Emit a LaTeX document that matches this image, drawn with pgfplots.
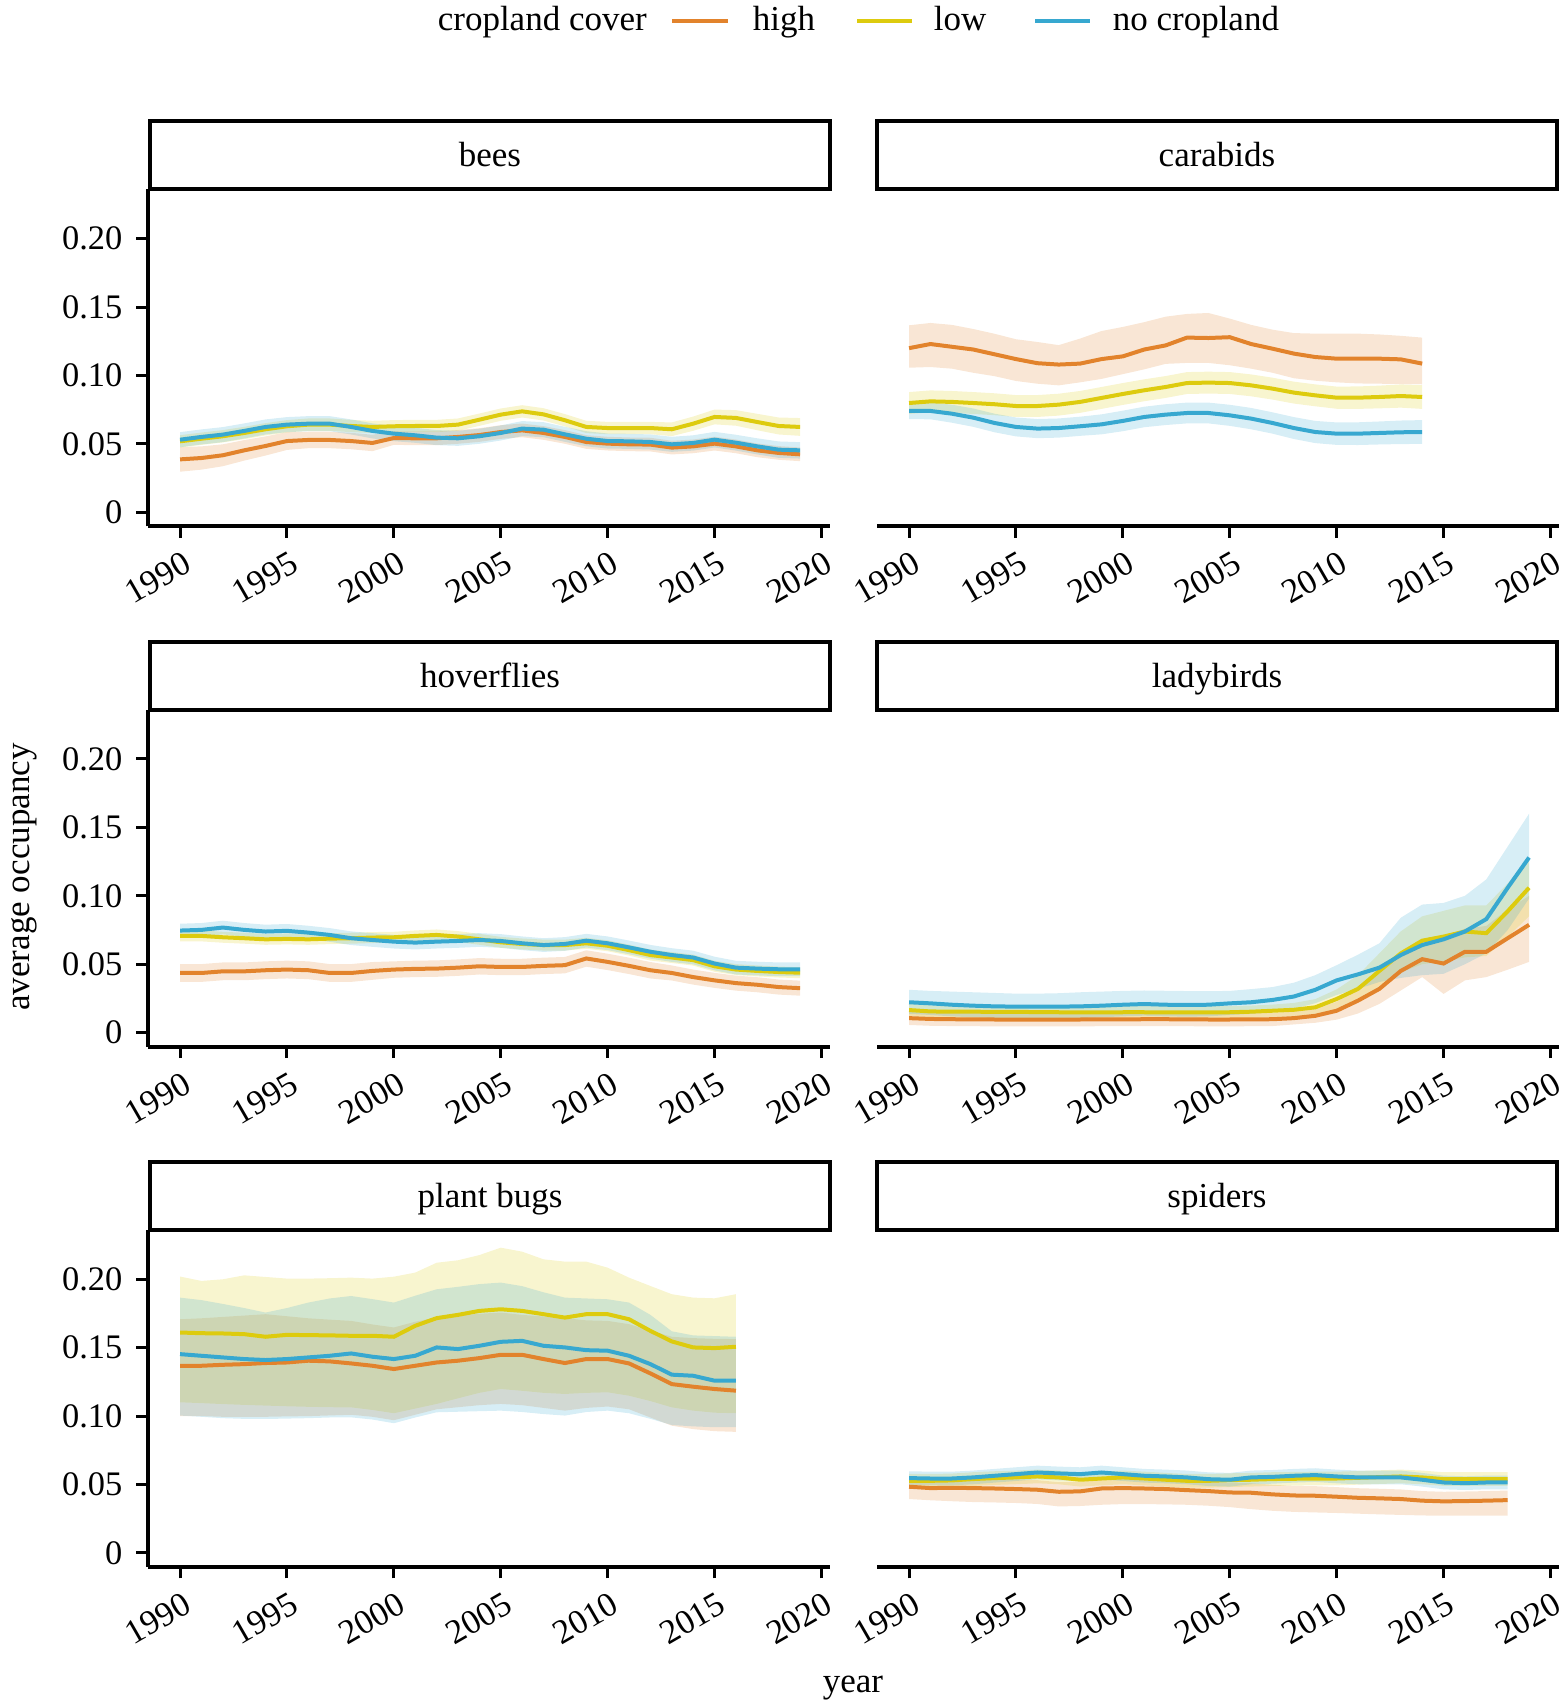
\documentclass[border=0pt]{standalone}
\usepackage{fontspec}
\setmainfont{Liberation Serif}
\usepackage{pgfplots}
\pgfplotsset{compat=1.18}
\usepackage{pgfplotstable}
\usepgfplotslibrary{fillbetween}

\definecolor{chigh}{HTML}{E2832C}
\definecolor{clow}{HTML}{DDCB0E}
\definecolor{cno}{HTML}{37A8D0}
\newcommand\tf{\fontsize{8.75}{10}\selectfont}
\newcommand\tkf{\fontsize{8.6}{10}\selectfont}

\pgfplotstableread{
year hm hl hu lm ll lu nm nl nu
1990 .0387 .0297 .0477 .0519 .0474 .0564 .0531 .0476 .0586
1991 .0397 .0312 .0482 .0538 .0493 .0583 .0551 .0496 .0606
1992 .0417 .0337 .0497 .0556 .0511 .0601 .0568 .0513 .0623
1993 .0453 .0378 .0528 .0580 .0535 .0625 .0595 .0540 .0650
1994 .0485 .0415 .0555 .0607 .0562 .0652 .0624 .0569 .0679
1995 .0521 .0456 .0586 .0629 .0584 .0674 .0641 .0586 .0696
1996 .0529 .0469 .0589 .0641 .0596 .0686 .0648 .0593 .0703
1997 .0529 .0469 .0589 .0641 .0596 .0686 .0648 .0593 .0703
1998 .0521 .0461 .0581 .0631 .0586 .0676 .0624 .0569 .0679
1999 .0507 .0447 .0567 .0624 .0579 .0669 .0595 .0540 .0650
2000 .0543 .0493 .0593 .0629 .0584 .0674 .0575 .0520 .0630
2001 .0541 .0491 .0591 .0631 .0586 .0676 .0563 .0508 .0618
2002 .0541 .0491 .0591 .0631 .0586 .0676 .0546 .0491 .0601
2003 .0551 .0501 .0601 .0641 .0596 .0686 .0541 .0486 .0596
2004 .0565 .0515 .0615 .0677 .0632 .0722 .0556 .0501 .0611
2005 .0587 .0537 .0637 .0714 .0669 .0759 .0580 .0525 .0635
2006 .0599 .0549 .0649 .0738 .0693 .0783 .0612 .0557 .0667
2007 .0580 .0530 .0630 .0716 .0671 .0761 .0604 .0549 .0659
2008 .0551 .0501 .0601 .0673 .0628 .0718 .0570 .0515 .0625
2009 .0514 .0464 .0564 .0624 .0579 .0669 .0538 .0483 .0593
2010 .0502 .0452 .0552 .0616 .0571 .0661 .0521 .0466 .0576
2011 .0497 .0447 .0547 .0616 .0571 .0661 .0519 .0464 .0574
2012 .0495 .0445 .0545 .0616 .0571 .0661 .0514 .0459 .0569
2013 .0473 .0423 .0523 .0607 .0557 .0657 .0497 .0442 .0552
2014 .0482 .0432 .0532 .0648 .0596 .0700 .0507 .0451 .0563
2015 .0502 .0452 .0552 .0697 .0643 .0751 .0531 .0474 .0588
2016 .0482 .0432 .0532 .0690 .0633 .0747 .0509 .0451 .0567
2017 .0453 .0403 .0503 .0660 .0600 .0720 .0482 .0423 .0541
2018 .0434 .0384 .0484 .0631 .0569 .0693 .0458 .0398 .0518
2019 .0424 .0374 .0474 .0624 .0559 .0689 .0453 .0393 .0513
}\bees

\pgfplotstableread{
year hm hl hu lm ll lu nm nl nu
1990 .1200 .1057 .1367 .0799 .0719 .0879 .0741 .0681 .0801
1991 .1230 .1062 .1384 .0811 .0731 .0891 .0741 .0680 .0802
1992 .1210 .1050 .1370 .0807 .0727 .0887 .0721 .0655 .0787
1993 .1190 .1020 .1340 .0799 .0719 .0879 .0692 .0625 .0759
1994 .1155 .0995 .1305 .0790 .0710 .0870 .0653 .0585 .0721
1995 .1120 .0960 .1265 .0777 .0697 .0857 .0624 .0555 .0693
1996 .1090 .0940 .1245 .0777 .0697 .0857 .0612 .0542 .0682
1997 .1080 .0928 .1222 .0787 .0707 .0867 .0616 .0546 .0686
1998 .1087 .0950 .1270 .0807 .0727 .0887 .0629 .0559 .0699
1999 .1120 .0975 .1325 .0836 .0756 .0916 .0643 .0570 .0716
2000 .1140 .1010 .1355 .0865 .0785 .0945 .0668 .0593 .0743
2001 .1190 .1045 .1390 .0892 .0812 .0972 .0697 .0622 .0772
2002 .1220 .1085 .1430 .0916 .0836 .0996 .0714 .0638 .0790
2003 .1277 .1092 .1450 .0945 .0865 .1025 .0726 .0650 .0802
2004 .1274 .1092 .1457 .0948 .0868 .1028 .0726 .0650 .0802
2005 .1280 .1075 .1416 .0945 .0865 .1025 .0709 .0632 .0786
2006 .1230 .1050 .1370 .0928 .0848 .1008 .0685 .0607 .0763
2007 .1196 .1020 .1335 .0904 .0824 .0984 .0653 .0575 .0731
2008 .1160 .0980 .1310 .0875 .0795 .0955 .0616 .0536 .0696
2009 .1135 .0962 .1306 .0855 .0775 .0935 .0587 .0506 .0668
2010 .1123 .0950 .1306 .0838 .0757 .0919 .0575 .0493 .0657
2011 .1123 .0942 .1306 .0838 .0756 .0920 .0575 .0492 .0658
2012 .1123 .0940 .1300 .0843 .0760 .0926 .0580 .0496 .0664
2013 .1118 .0938 .1290 .0850 .0765 .0935 .0585 .0499 .0671
2014 .1087 .0936 .1277 .0843 .0756 .0930 .0587 .0500 .0674
}\carabids

\pgfplotstableread{
year hm hl hu lm ll lu nm nl nu
1990 .0436 .0371 .0501 .0707 .0667 .0747 .0746 .0696 .0796
1991 .0436 .0371 .0501 .0707 .0667 .0747 .0751 .0701 .0801
1992 .0448 .0383 .0513 .0697 .0657 .0737 .0768 .0718 .0818
1993 .0448 .0383 .0513 .0690 .0650 .0730 .0751 .0701 .0801
1994 .0456 .0391 .0521 .0682 .0642 .0722 .0739 .0689 .0789
1995 .0461 .0396 .0526 .0685 .0645 .0725 .0744 .0694 .0794
1996 .0456 .0391 .0521 .0682 .0642 .0722 .0731 .0681 .0781
1997 .0436 .0371 .0501 .0687 .0647 .0727 .0714 .0664 .0764
1998 .0436 .0371 .0501 .0690 .0650 .0730 .0690 .0640 .0740
1999 .0451 .0386 .0516 .0695 .0655 .0735 .0677 .0627 .0727
2000 .0461 .0401 .0521 .0697 .0657 .0737 .0665 .0615 .0715
2001 .0466 .0406 .0526 .0707 .0667 .0747 .0658 .0608 .0708
2002 .0468 .0408 .0528 .0714 .0674 .0754 .0665 .0615 .0715
2003 .0475 .0415 .0535 .0702 .0662 .0742 .0670 .0620 .0720
2004 .0485 .0425 .0545 .0682 .0642 .0722 .0677 .0627 .0727
2005 .0480 .0420 .0540 .0660 .0620 .0700 .0670 .0620 .0720
2006 .0480 .0420 .0540 .0648 .0608 .0688 .0653 .0603 .0703
2007 .0488 .0428 .0548 .0640 .0600 .0680 .0640 .0590 .0690
2008 .0493 .0433 .0553 .0640 .0600 .0680 .0648 .0598 .0698
2009 .0542 .0482 .0602 .0653 .0613 .0693 .0672 .0622 .0722
2010 .0517 .0457 .0577 .0635 .0595 .0675 .0653 .0603 .0703
2011 .0488 .0428 .0548 .0603 .0563 .0643 .0623 .0573 .0673
2012 .0456 .0396 .0516 .0567 .0527 .0607 .0591 .0541 .0641
2013 .0436 .0381 .0491 .0549 .0509 .0589 .0567 .0517 .0617
2014 .0406 .0351 .0461 .0530 .0490 .0570 .0549 .0499 .0599
2015 .0382 .0327 .0437 .0485 .0445 .0525 .0505 .0455 .0555
2016 .0362 .0307 .0417 .0461 .0421 .0501 .0475 .0425 .0525
2017 .0350 .0295 .0405 .0451 .0411 .0491 .0468 .0418 .0518
2018 .0333 .0278 .0388 .0443 .0403 .0483 .0463 .0413 .0513
2019 .0325 .0270 .0380 .0438 .0398 .0478 .0463 .0413 .0513
}\hoverflies

\pgfplotstableread{
year hm hl hu lm ll lu nm nl nu
1990 .0106 .0056 .0151 .0165 .0120 .0210 .0222 .0137 .0313
1991 .0100 .0050 .0145 .0155 .0110 .0200 .0214 .0129 .0305
1992 .0098 .0048 .0143 .0153 .0108 .0198 .0204 .0119 .0300
1993 .0097 .0047 .0142 .0153 .0108 .0198 .0197 .0112 .0295
1994 .0096 .0046 .0141 .0152 .0107 .0197 .0192 .0107 .0290
1995 .0096 .0046 .0141 .0152 .0107 .0197 .0190 .0105 .0285
1996 .0095 .0045 .0140 .0150 .0105 .0195 .0190 .0105 .0285
1997 .0095 .0045 .0140 .0149 .0104 .0194 .0190 .0105 .0288
1998 .0096 .0046 .0141 .0148 .0103 .0193 .0192 .0107 .0295
1999 .0097 .0047 .0142 .0148 .0103 .0193 .0197 .0112 .0300
2000 .0097 .0047 .0142 .0149 .0104 .0194 .0204 .0119 .0305
2001 .0098 .0048 .0143 .0149 .0104 .0194 .0209 .0124 .0308
2002 .0098 .0048 .0143 .0148 .0103 .0193 .0204 .0119 .0306
2003 .0097 .0047 .0142 .0148 .0103 .0193 .0202 .0117 .0304
2004 .0096 .0046 .0141 .0148 .0103 .0193 .0204 .0119 .0303
2005 .0096 .0046 .0141 .0149 .0104 .0194 .0214 .0129 .0305
2006 .0097 .0047 .0142 .0153 .0108 .0198 .0222 .0137 .0318
2007 .0098 .0048 .0143 .0160 .0115 .0205 .0239 .0154 .0333
2008 .0106 .0060 .0155 .0167 .0117 .0217 .0264 .0175 .0365
2009 .0123 .0072 .0178 .0185 .0125 .0245 .0313 .0215 .0420
2010 .0160 .0095 .0225 .0246 .0176 .0316 .0382 .0275 .0493
2011 .0234 .0140 .0320 .0320 .0230 .0420 .0426 .0320 .0570
2012 .0320 .0210 .0430 .0451 .0330 .0580 .0475 .0370 .0653
2013 .0451 .0308 .0590 .0579 .0440 .0740 .0567 .0400 .0840
2014 .0537 .0406 .0680 .0672 .0500 .0850 .0640 .0420 .0936
2015 .0505 .0283 .0700 .0702 .0520 .0890 .0682 .0430 .0948
2016 .0591 .0382 .0760 .0739 .0550 .0930 .0739 .0500 .1000
2017 .0591 .0406 .0780 .0727 .0560 .0930 .0830 .0580 .1120
2018 .0690 .0460 .0900 .0887 .0700 .1090 .1059 .0750 .1360
2019 .0788 .0517 .1000 .1059 .0850 .1280 .1280 .0980 .1600
}\ladybirds

\pgfplotstableread{
year hm hl hu lm ll lu nm nl nu
1990 .1368 .1000 .1708 .1611 .1101 .2020 .1453 .1004 .1866
1991 .1368 .1000 .1715 .1606 .1095 .1988 .1441 .0995 .1848
1992 .1375 .0995 .1725 .1604 .1088 .2000 .1429 .0985 .1820
1993 .1380 .0995 .1735 .1599 .1082 .2029 .1417 .0980 .1790
1994 .1388 .0995 .1745 .1580 .1077 .2017 .1410 .0979 .1757
1995 .1392 .0998 .1730 .1594 .1072 .2005 .1417 .0982 .1790
1996 .1405 .1000 .1715 .1592 .1068 .2005 .1429 .0985 .1830
1997 .1400 .1005 .1705 .1590 .1065 .2008 .1441 .0990 .1860
1998 .1385 .1010 .1696 .1587 .1064 .2012 .1458 .0991 .1878
1999 .1368 .0995 .1670 .1587 .1045 .2005 .1434 .0975 .1855
2000 .1344 .0970 .1648 .1580 .1021 .2019 .1417 .0948 .1830
2001 .1368 .1010 .1690 .1660 .1055 .2049 .1441 .0990 .1880
2002 .1392 .1050 .1721 .1716 .1089 .2121 .1502 .1028 .1927
2003 .1405 .1065 .1735 .1740 .1130 .2139 .1490 .1032 .1945
2004 .1424 .1080 .1748 .1769 .1170 .2177 .1514 .1036 .1965
2005 .1448 .1089 .1757 .1781 .1198 .2231 .1543 .1040 .1976
2006 .1448 .1080 .1740 .1769 .1185 .2202 .1550 .1030 .1950
2007 .1417 .1060 .1728 .1745 .1170 .2146 .1514 .1015 .1905
2008 .1388 .1040 .1716 .1720 .1162 .2129 .1502 .1004 .1866
2009 .1417 .1060 .1700 .1745 .1170 .2129 .1482 .1030 .1860
2010 .1417 .1070 .1696 .1745 .1174 .2085 .1478 .1040 .1854
2011 .1385 .1050 .1672 .1708 .1149 .2012 .1441 .1021 .1830
2012 .1312 .0990 .1625 .1623 .1110 .1951 .1380 .0980 .1740
2013 .1234 .0930 .1580 .1546 .1064 .1891 .1303 .0935 .1620
2014 .1215 .0905 .1570 .1502 .1040 .1866 .1295 .0925 .1590
2015 .1198 .0890 .1565 .1497 .1025 .1861 .1259 .0919 .1585
2016 .1186 .0885 .1563 .1507 .1021 .1891 .1259 .0919 .1580
}\plantbugs

\pgfplotstableread{
year hm hl hu lm ll lu nm nl nu
1990 .0484 .0394 .0554 .0527 .0477 .0577 .0547 .0497 .0597
1991 .0474 .0385 .0544 .0527 .0477 .0577 .0544 .0494 .0594
1992 .0476 .0378 .0546 .0530 .0480 .0580 .0544 .0494 .0594
1993 .0474 .0372 .0544 .0540 .0490 .0590 .0552 .0502 .0602
1994 .0471 .0369 .0541 .0547 .0497 .0597 .0564 .0514 .0614
1995 .0467 .0365 .0537 .0552 .0502 .0602 .0576 .0526 .0626
1996 .0462 .0358 .0532 .0559 .0509 .0609 .0588 .0538 .0638
1997 .0447 .0340 .0517 .0552 .0502 .0602 .0581 .0531 .0631
1998 .0450 .0343 .0520 .0535 .0485 .0585 .0576 .0526 .0626
1999 .0471 .0352 .0541 .0544 .0494 .0594 .0588 .0538 .0638
2000 .0474 .0357 .0544 .0552 .0502 .0602 .0576 .0526 .0626
2001 .0471 .0357 .0541 .0544 .0494 .0594 .0564 .0514 .0614
2002 .0467 .0355 .0537 .0535 .0485 .0585 .0559 .0509 .0609
2003 .0459 .0352 .0529 .0527 .0477 .0577 .0552 .0502 .0602
2004 .0452 .0345 .0522 .0527 .0477 .0577 .0539 .0489 .0589
2005 .0442 .0335 .0512 .0532 .0482 .0582 .0535 .0485 .0585
2006 .0440 .0320 .0510 .0535 .0485 .0585 .0552 .0502 .0602
2007 .0428 .0308 .0498 .0540 .0490 .0590 .0556 .0506 .0606
2008 .0420 .0300 .0490 .0542 .0492 .0592 .0564 .0514 .0614
2009 .0418 .0296 .0488 .0544 .0494 .0594 .0569 .0519 .0619
2010 .0411 .0292 .0481 .0544 .0494 .0594 .0559 .0509 .0609
2011 .0403 .0287 .0473 .0549 .0499 .0599 .0552 .0502 .0602
2012 .0399 .0282 .0469 .0554 .0504 .0604 .0552 .0502 .0602
2013 .0394 .0278 .0464 .0559 .0509 .0609 .0552 .0502 .0602
2014 .0382 .0274 .0452 .0552 .0502 .0602 .0535 .0485 .0585
2015 .0377 .0272 .0447 .0540 .0490 .0590 .0515 .0465 .0565
2016 .0379 .0272 .0449 .0540 .0490 .0590 .0510 .0460 .0560
2017 .0382 .0272 .0452 .0540 .0490 .0590 .0515 .0465 .0565
2018 .0386 .0272 .0456 .0540 .0490 .0590 .0515 .0465 .0565
}\spiders

\pgfplotsset{
  panel/.style={
    scale only axis, width=170.5pt, height=84.25pt,
    anchor=south west, set layers,
    xmin=1988.5, xmax=2020.4, ymin=-0.0102, ymax=0.2361,
    xtick={1990,1995,2000,2005,2010,2015,2020},
    xticklabels={1990,1995,2000,2005,2010,2015,2020},
    ytick={0,0.05,0.1,0.15,0.2},
    yticklabels={0,0.05,0.10,0.15,0.20},
    tick align=outside, major tick length=2.9pt,
    every tick/.style={black, line width=0.75pt},
    axis line style={black, line width=1pt},
    axis x line*=bottom,
    xticklabel style={font=\tkf, xshift=0.5pt, yshift=-2.9pt, rotate=30, anchor=north east, inner sep=0pt},
    yticklabel style={font=\tkf},
  },
  leftpanel/.style={panel, axis y line*=left},
  rightpanel/.style={panel, axis y line=none},
  ln/.style={line width=1pt, forget plot},
  bd/.style={draw=none, forget plot},
  rb/.style={draw=none, fill=#1, fill opacity=0.2, on layer=main, forget plot},
}

\newcommand\series[1]{%
  \addplot[ln, chigh] table[x=year,y=hm]{#1};
  \addplot[ln, clow] table[x=year,y=lm]{#1};
  \addplot[ln, cno] table[x=year,y=nm]{#1};
  \addplot[bd, name path=HL] table[x=year,y=hl]{#1};
  \addplot[bd, name path=HU] table[x=year,y=hu]{#1};
  \addplot[bd, name path=LL] table[x=year,y=ll]{#1};
  \addplot[bd, name path=LU] table[x=year,y=lu]{#1};
  \addplot[bd, name path=NL] table[x=year,y=nl]{#1};
  \addplot[bd, name path=NU] table[x=year,y=nu]{#1};
  \addplot[rb=chigh] fill between[of=HL and HU];
  \addplot[rb=clow] fill between[of=LL and LU];
  \addplot[rb=cno] fill between[of=NL and NU];
}

\newcommand\strip[3]{% x-left, y-bottom (pt), label
  \draw[line width=1pt] (#1,#2) rectangle ++(170pt,17pt);
  \node[font=\tf, anchor=base, inner sep=0pt] at ([xshift=85pt,yshift=5.6pt]#1,#2) {#3};
}

\begin{document}
\begin{tikzpicture}

\begin{axis}[leftpanel, at={(37pt,294.175pt)}]
\series{\bees}
\end{axis}
\begin{axis}[rightpanel, at={(219.25pt,294.175pt)}]
\series{\carabids}
\end{axis}
\begin{axis}[leftpanel, at={(37pt,164.1pt)}]
\series{\hoverflies}
\end{axis}
\begin{axis}[rightpanel, at={(219.25pt,164.1pt)}]
\series{\ladybirds}
\end{axis}
\begin{axis}[leftpanel, at={(37pt,34.025pt)}]
\series{\plantbugs}
\end{axis}
\begin{axis}[rightpanel, at={(219.25pt,34.025pt)}]
\series{\spiders}
\end{axis}

\strip{37.5pt}{378.425pt}{bees}
\strip{219.25pt}{378.425pt}{carabids}
\strip{37.5pt}{248.35pt}{hoverflies}
\strip{219.25pt}{248.35pt}{ladybirds}
\strip{37.5pt}{118.275pt}{plant bugs}
\strip{219.25pt}{118.275pt}{spiders}

% axis titles
\node[font=\tf, anchor=base, inner sep=0pt] at (213.25pt,2.5pt) {year};
\node[font=\tf, anchor=base, inner sep=0pt, rotate=90] at (7.25pt,206.5pt) {average occupancy};

% legend
\node[font=\tf, anchor=base west, inner sep=0pt] at (109.25pt,418pt) {cropland cover};
\draw[chigh, line width=1pt] (168pt,420.4pt) -- (182pt,420.4pt);
\node[font=\tf, anchor=base west, inner sep=0pt] at (188pt,418pt) {high};
\draw[clow, line width=1pt] (214.25pt,420.4pt) -- (228pt,420.4pt);
\node[font=\tf, anchor=base west, inner sep=0pt] at (233.25pt,418pt) {low};
\draw[cno, line width=1pt] (258.75pt,420.4pt) -- (272.5pt,420.4pt);
\node[font=\tf, anchor=base west, inner sep=0pt] at (278pt,418pt) {no cropland};

\pgfresetboundingbox
\path (0pt,0pt) rectangle (391pt,425.75pt);
\end{tikzpicture}
\end{document}
